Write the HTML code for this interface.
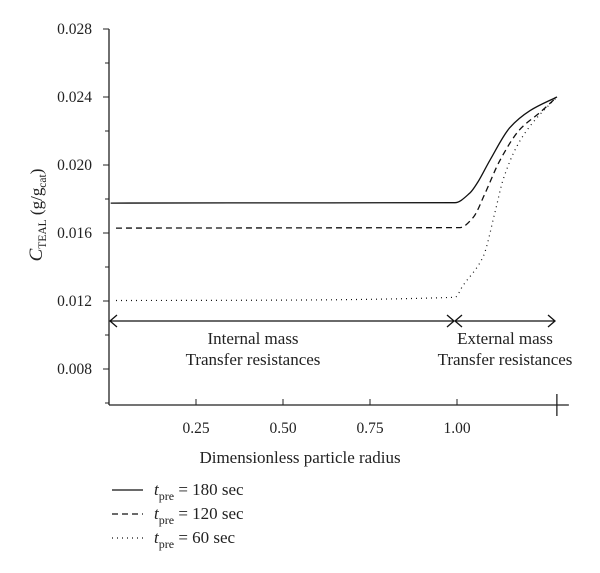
<!DOCTYPE html>
<html><head><meta charset="utf-8"><style>
body{margin:0;background:#fff;}
svg{display:block;font-family:"Liberation Serif",serif;}
</style></head><body>
<svg width="600" height="573" viewBox="0 0 600 573">
<g id="axes"></g>
<g id="series"></g>
<g id="annot"></g>
<g id="legend"></g>
</svg>
<script>
const yTicks=[0.008,0.012,0.016,0.020,0.024,0.028];
const yTickLabels=["0.008","0.012","0.016","0.020","0.024","0.028"];
const xTicks=[0.25,0.5,0.75,1.0];
const xTickLabels=["0.25","0.50","0.75","1.00"];
const xEnd=1.287;
const solidX=[0.005,0.35,0.994,1.037,1.060,1.095,1.152,1.210,1.287];
const solidY=[0.01776,0.01777,0.01778,0.01835,0.0190,0.0203,0.0222,0.0232,0.0240];
const dashX=[0.02,0.5,1.009,1.046,1.080,1.124,1.181,1.239,1.287];
const dashY=[0.01629,0.01630,0.01632,0.0169,0.0183,0.0203,0.0221,0.0231,0.0240];
const dotX=[0.02,0.5,0.994,1.017,1.075,1.109,1.132,1.172,1.218,1.287];
const dotY=[0.01203,0.01205,0.01222,0.0129,0.0146,0.0172,0.0191,0.0211,0.0225,0.0240];
const NS="http://www.w3.org/2000/svg";
const X0=109,PX=348,Y0=29;
function xs(v){return X0+v*PX;}
function ys(v){return Y0+(0.028-v)/0.004*68;}
function mk(tag,attrs,parent,text){const e=document.createElementNS(NS,tag);for(const k in attrs)e.setAttribute(k,attrs[k]);if(text!==undefined)e.textContent=text;parent.appendChild(e);return e;}
const ax=document.getElementById('axes');
let e=mk('line',{x1:109,y1:29,x2:109,y2:405,stroke:'#222','stroke-width':1.3},ax);


e=mk('line',{x1:109,y1:405,x2:xs(xEnd)+12,y2:405,stroke:'#222','stroke-width':1.3},ax);


yTicks.forEach((t,i)=>{
 const y=ys(t);
 mk('line',{x1:103,y1:y,x2:109,y2:y,stroke:'#222'},ax);
 if(t<0.028)mk('line',{x1:105,y1:ys(t+0.002),x2:109,y2:ys(t+0.002),stroke:'#222'},ax);
 const l=mk('text',{x:92,y:y+5,'text-anchor':'end','font-size':15.5,fill:'#222'},ax,yTickLabels[i]);
 
 
});
mk('line',{x1:105,y1:ys(0.006),x2:109,y2:ys(0.006),stroke:'#222'},ax);
xTicks.forEach((t,i)=>{
 const x=xs(t);
 mk('line',{x1:x,y1:399,x2:x,y2:405,stroke:'#222'},ax);
 const l=mk('text',{x:x,y:433,'text-anchor':'middle','font-size':15.5,fill:'#222'},ax,xTickLabels[i]);
 
 
});
mk('line',{x1:xs(xEnd),y1:394,x2:xs(xEnd),y2:416,stroke:'#222','stroke-width':1.3},ax);
e=mk('text',{x:300,y:463,'text-anchor':'middle','font-size':17,fill:'#222'},ax,'Dimensionless particle radius');


e=mk('text',{transform:'translate(42,215) rotate(-90)','text-anchor':'middle','font-size':17,fill:'#222'},ax);


e.innerHTML='<tspan font-style="italic" font-size="19">C</tspan><tspan font-size="11.5" dy="4">TEAL</tspan><tspan dy="-4"> (g/g</tspan><tspan font-size="11.5" dy="4">cat</tspan><tspan dy="-4">)</tspan>';
const sg=document.getElementById('series');
function pathOf(X,Y){
 const P=X.map((x,i)=>[xs(x),ys(Y[i])]);const n=P.length;
 const d=[],m=[];
 for(let i=0;i<n-1;i++)d.push((P[i+1][1]-P[i][1])/(P[i+1][0]-P[i][0]));
 for(let i=0;i<n;i++){
  if(i===0)m.push(d[0]);else if(i===n-1)m.push(d[n-2]);
  else m.push(d[i-1]*d[i]<=0?0:2/(1/d[i-1]+1/d[i]));
 }
 let s='M'+P[0][0].toFixed(1)+','+P[0][1].toFixed(1);
 for(let i=0;i<n-1;i++){
  const h=(P[i+1][0]-P[i][0])/3;
  s+=` C${(P[i][0]+h).toFixed(1)},${(P[i][1]+m[i]*h).toFixed(1)} ${(P[i+1][0]-h).toFixed(1)},${(P[i+1][1]-m[i+1]*h).toFixed(1)} ${P[i+1][0].toFixed(1)},${P[i+1][1].toFixed(1)}`;
 }
 return s;
}
e=mk('path',{d:pathOf(solidX,solidY),fill:'none',stroke:'#111','stroke-width':1.3},sg);


e=mk('path',{d:pathOf(dashX,dashY),fill:'none',stroke:'#111','stroke-width':1.3,'stroke-dasharray':'6,4'},sg);


e=mk('path',{d:pathOf(dotX,dotY),fill:'none',stroke:'#111','stroke-width':1.2,'stroke-dasharray':'1,4'},sg);


const an=document.getElementById('annot');
function arrow(x1,x2,name){const g=mk('g',{},an);
 mk('line',{x1:x1,y1:321,x2:x2,y2:321,stroke:'#111','stroke-width':1.3},g);
 mk('path',{d:`M${x1+7},315 L${x1},321 L${x1+7},327 M${x2-7},315 L${x2},321 L${x2-7},327`,fill:'none',stroke:'#111','stroke-width':1.3},g);}
arrow(110,454,'internal-arrow');arrow(455,555,'external-arrow');
[['Internal mass',253,344],['Transfer resistances',253,365],['External mass',505,344],['Transfer resistances',505,365]].forEach(a=>{
 const t=mk('text',{x:a[1],y:a[2],'text-anchor':'middle','font-size':17,fill:'#222'},an,a[0]);
 
 
});
const lg=document.getElementById('legend');
[['180','none'],['120','6,4'],['60','1,4']].forEach((r,i)=>{
 const y=490+i*24;
 const g=mk('g',{},lg);
 
 
 mk('line',{x1:112,y1:y,x2:143,y2:y,stroke:'#111','stroke-width':1.3,'stroke-dasharray':r[1]},g);
 const t=mk('text',{x:154,y:y+5,'font-size':17,fill:'#222'},g);
 t.innerHTML='<tspan font-style="italic">t</tspan><tspan font-size="12" dy="5">pre</tspan><tspan dy="-5"> = '+r[0]+' sec</tspan>';
});
</script>
</body></html>
